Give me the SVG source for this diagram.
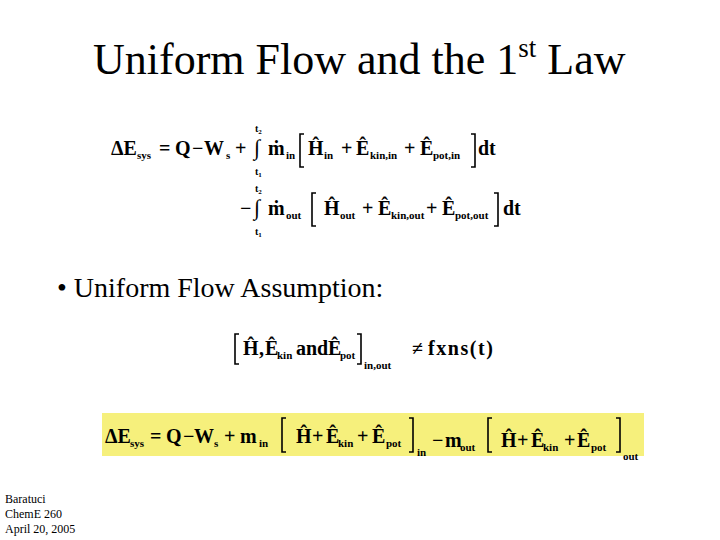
<svg xmlns="http://www.w3.org/2000/svg" width="720" height="540" viewBox="0 0 720 540">
<style>
.t{font-family:"Liberation Serif",serif;fill:#000}
.m{font-family:"Liberation Serif","Times New Roman",serif;font-weight:bold;font-size:20px;fill:#000}
.s{font-size:11px}
.lim{font-family:"Liberation Serif",serif;font-weight:bold;font-size:10px}
.br{fill:none;stroke:#000;stroke-width:1.6}
</style>
<rect width="720" height="540" fill="#fff"/>
<g id="title"><text class="t" x="93" y="74" font-size="44">Uniform Flow and the 1<tspan font-size="27" dy="-17">st</tspan><tspan dy="17"> Law</tspan></text></g>
<g id="eq1">
<text class="m" y="155"><tspan x="111">ΔE</tspan><tspan class="s" x="137" dy="4">sys</tspan><tspan dy="-4" x="159">=</tspan><tspan x="175">Q</tspan><tspan x="192">−</tspan><tspan x="204">W</tspan><tspan class="s" x="226" dy="4">s</tspan><tspan dy="-4" x="235">+</tspan><tspan x="254" font-size="22" font-weight="normal">∫</tspan><tspan x="268">ṁ</tspan><tspan class="s" x="286" dy="4">in</tspan><tspan dy="-4" x="308">Ĥ</tspan><tspan class="s" x="324" dy="4">in</tspan><tspan dy="-4" x="341">+</tspan><tspan x="356">Ê</tspan><tspan class="s" x="370" dy="4">kin,in</tspan><tspan dy="-4" x="404">+</tspan><tspan x="420">Ê</tspan><tspan class="s" x="433" dy="4">pot,in</tspan><tspan dy="-4" x="478">dt</tspan></text>
<text class="lim" x="255" y="132">t<tspan font-size="7" dy="2">2</tspan></text>
<text class="lim" x="255" y="175">t<tspan font-size="7" dy="2">1</tspan></text>
<path class="br" d="M304 134H300V167H304M471 134H475V167H471"/>
</g>
<g id="eq2">
<text class="m" y="215"><tspan x="240">−</tspan><tspan x="254" font-size="22" font-weight="normal">∫</tspan><tspan x="268">ṁ</tspan><tspan class="s" x="286" dy="4">out</tspan><tspan dy="-4" x="324">Ĥ</tspan><tspan class="s" x="340" dy="4">out</tspan><tspan dy="-4" x="362">+</tspan><tspan x="378">Ê</tspan><tspan class="s" x="391" dy="4">kin,out</tspan><tspan dy="-4" x="426">+</tspan><tspan x="442">Ê</tspan><tspan class="s" x="455" dy="4">pot,out</tspan><tspan dy="-4" x="503">dt</tspan></text>
<text class="lim" x="255" y="192">t<tspan font-size="7" dy="2">2</tspan></text>
<text class="lim" x="255" y="235">t<tspan font-size="7" dy="2">1</tspan></text>
<path class="br" d="M316 193H312V226H316M494 193H498V226H494"/>
</g>
<g id="bullet"><text class="t" x="57" y="297" font-size="28">•  Uniform Flow Assumption:</text></g>
<g id="eq3">
<text class="m" y="355" font-size="17"><tspan x="243">Ĥ</tspan><tspan x="259">,</tspan><tspan x="265">Ê</tspan><tspan class="s" font-size="10" x="277" dy="4">kin</tspan><tspan dy="-4" x="296">and</tspan><tspan x="328">Ê</tspan><tspan class="s" font-size="10" x="340" dy="4">pot</tspan><tspan class="s" font-size="10" x="364" dy="10">in,out</tspan><tspan x="412" dy="-14">≠</tspan></text>
<text class="m" x="428" y="355" font-size="19" textLength="65" lengthAdjust="spacing">fxns(t)</text>
<path class="br" d="M239 334H235V364H239M357 334H361V364H357"/>
</g>
<g id="result">
<rect x="102" y="413" width="542" height="43" fill="#f6f07c"/>
<text class="m" y="443" font-size="17"><tspan x="105">ΔE</tspan><tspan class="s" font-size="10" x="130" dy="4">sys</tspan><tspan dy="-4" x="150">=</tspan><tspan x="166">Q</tspan><tspan x="183">−</tspan><tspan x="194">W</tspan><tspan class="s" font-size="10" x="214" dy="4">s</tspan><tspan dy="-4" x="224">+</tspan><tspan x="240">m</tspan><tspan class="s" font-size="10" x="259" dy="4">in</tspan><tspan dy="-4" x="296">Ĥ</tspan><tspan x="312">+</tspan><tspan x="326">Ê</tspan><tspan class="s" font-size="10" x="338" dy="4">kin</tspan><tspan dy="-4" x="357">+</tspan><tspan x="372">Ê</tspan><tspan class="s" font-size="10" x="386" dy="4">pot</tspan><tspan class="s" font-size="10" x="417" dy="9">in</tspan><tspan dy="-9" x="432">−</tspan><tspan x="445">m</tspan><tspan class="s" font-size="10" x="460" dy="4">out</tspan><tspan dy="-4" x="501">Ĥ</tspan><tspan x="517">+</tspan><tspan x="531">Ê</tspan><tspan class="s" font-size="10" x="543" dy="4">kin</tspan><tspan dy="-4" x="564">+</tspan><tspan x="577">Ê</tspan><tspan class="s" font-size="10" x="591" dy="4">pot</tspan><tspan class="s" font-size="10" x="623" dy="9">out</tspan></text>
<path class="br" d="M286 418H282V452H286M409 418H413V452H409M492 418H488V452H492M616 418H620V452H616"/>
</g>
<g id="footer"><text class="t" font-size="12"><tspan x="5" y="503">Baratuci</tspan><tspan x="5" y="518">ChemE 260</tspan><tspan x="5" y="533">April 20, 2005</tspan></text></g>
</svg>
